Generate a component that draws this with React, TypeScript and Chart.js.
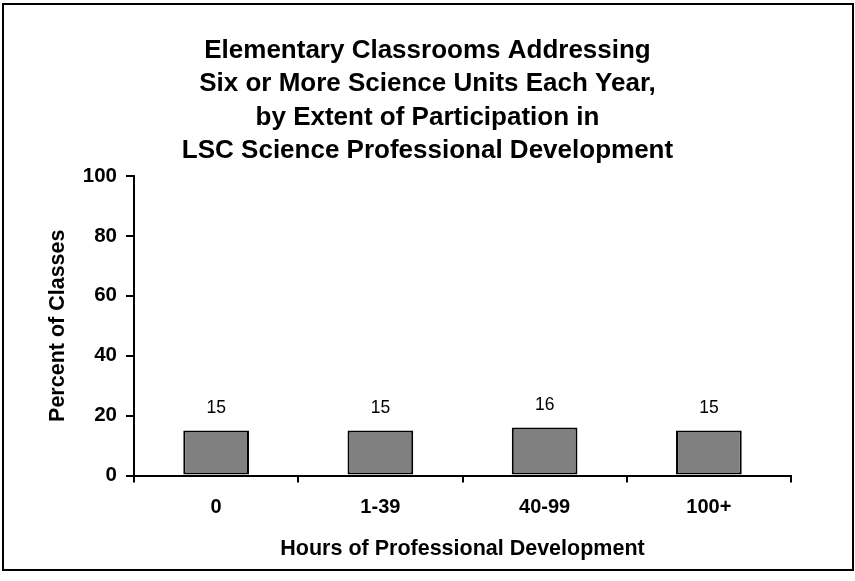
import React, { useEffect, useRef } from "react";
import { Chart, registerables } from "chart.js";

Chart.register(...registerables);

const TITLE_LINES = [
  "Elementary Classrooms Addressing",
  "Six or More Science Units Each Year,",
  "by Extent of Participation in",
  "LSC Science Professional Development",
];
const CATEGORIES = ["0", "1-39", "40-99", "100+"];
const PERCENT_VALUES = [15, 15, 16, 15];
const Y_TICKS = [0, 20, 40, 60, 80, 100];
const X_TITLE = "Hours of Professional Development";
const Y_TITLE = "Percent of Classes";

const FONT = "'Liberation Sans', Arial, Helvetica, sans-serif";

const frameAndLabels = {
  id: "frameAndLabels",
  afterDatasetsDraw(chart: any) {
    const ctx = chart.ctx;
    const meta = chart.getDatasetMeta(0);
    const data = chart.data.datasets[0].data;
    ctx.save();
    ctx.fillStyle = "#000";
    ctx.font = `normal 17.5px ${FONT}`;
    ctx.textAlign = "center";
    ctx.textBaseline = "middle";
    meta.data.forEach((bar: any, i: number) => {
      ctx.fillText(String(data[i]), bar.x, bar.y - 22);
    });
    ctx.restore();
  },
  afterDraw(chart: any) {
    const ctx = chart.ctx;
    ctx.save();
    ctx.strokeStyle = "#000";
    ctx.lineWidth = 2;
    ctx.strokeRect(3, 4, 850, 566);
    ctx.restore();
  },
};

export default function App() {
  const ref = useRef<HTMLCanvasElement>(null);
  useEffect(() => {
    if (!ref.current) return;
    Chart.defaults.font.family = FONT;
    Chart.defaults.color = "#000";
    const chart = new Chart(ref.current, {
      type: "bar",
      data: {
        labels: CATEGORIES,
        datasets: [
          {
            data: PERCENT_VALUES,
            backgroundColor: "#808080",
            borderColor: "#000",
            borderWidth: 2,
            borderSkipped: false,
            categoryPercentage: 1,
            barPercentage: 0.4,
          },
        ],
      },
      options: {
        responsive: false,
        animation: false,
        events: [],
        layout: { padding: 0 },
        plugins: {
          legend: { display: false },
          tooltip: { enabled: false },
          title: {
            display: true,
            text: TITLE_LINES,
            color: "#000",
            font: { family: FONT, size: 26, weight: "bold", lineHeight: 1.288 },
            padding: { top: 34, bottom: 8 },
          },
        },
        scales: {
          x: {
            grid: {
              display: true,
              drawOnChartArea: false,
              drawTicks: true,
              tickLength: 7,
              color: "#000",
              lineWidth: 2,
            },
            border: { display: true, color: "#000", width: 2 },
            ticks: {
              color: "#000",
              padding: 13,
              font: { family: FONT, size: 20, weight: "bold" },
            },
            title: {
              display: true,
              text: X_TITLE,
              color: "#000",
              font: { family: FONT, size: 21.5, weight: "bold", lineHeight: 1.2 },
              padding: { top: 0, bottom: 19 },
            },
            afterFit(scale: any) {
              scale.height = 105.5;
            },
          },
          y: {
            min: Y_TICKS[0],
            max: Y_TICKS[Y_TICKS.length - 1],
            afterBuildTicks(scale: any) {
              scale.ticks = Y_TICKS.map((v) => ({ value: v }));
            },
            grid: {
              display: true,
              drawOnChartArea: false,
              drawTicks: true,
              tickLength: 8,
              color: "#000",
              lineWidth: 2,
            },
            border: { display: true, color: "#000", width: 2 },
            ticks: {
              color: "#000",
              padding: 9,
              font: { family: FONT, size: 20.5, weight: "bold" },
            },
            title: {
              display: true,
              text: Y_TITLE,
              color: "#000",
              font: { family: FONT, size: 21.5, weight: "bold", lineHeight: 1.2 },
              padding: { top: 45, bottom: 0 },
            },
            afterFit(scale: any) {
              scale.width = 134;
            },
          },
          yR: {
            type: "linear",
            position: "right",
            display: true,
            grid: { display: false, drawTicks: false },
            border: { display: false },
            ticks: { display: false },
            title: { display: false },
            afterFit(scale: any) {
              scale.width = 64;
            },
          },
        },
      },
      plugins: [frameAndLabels],
    } as any);
    return () => chart.destroy();
  }, []);
  return (
    <div style={{ position: "fixed", left: 0, top: 0, width: 855, height: 581, background: "#fff" }}>
      <canvas ref={ref} width={855} height={581} style={{ width: 855, height: 581, display: "block" }} />
    </div>
  );
}
